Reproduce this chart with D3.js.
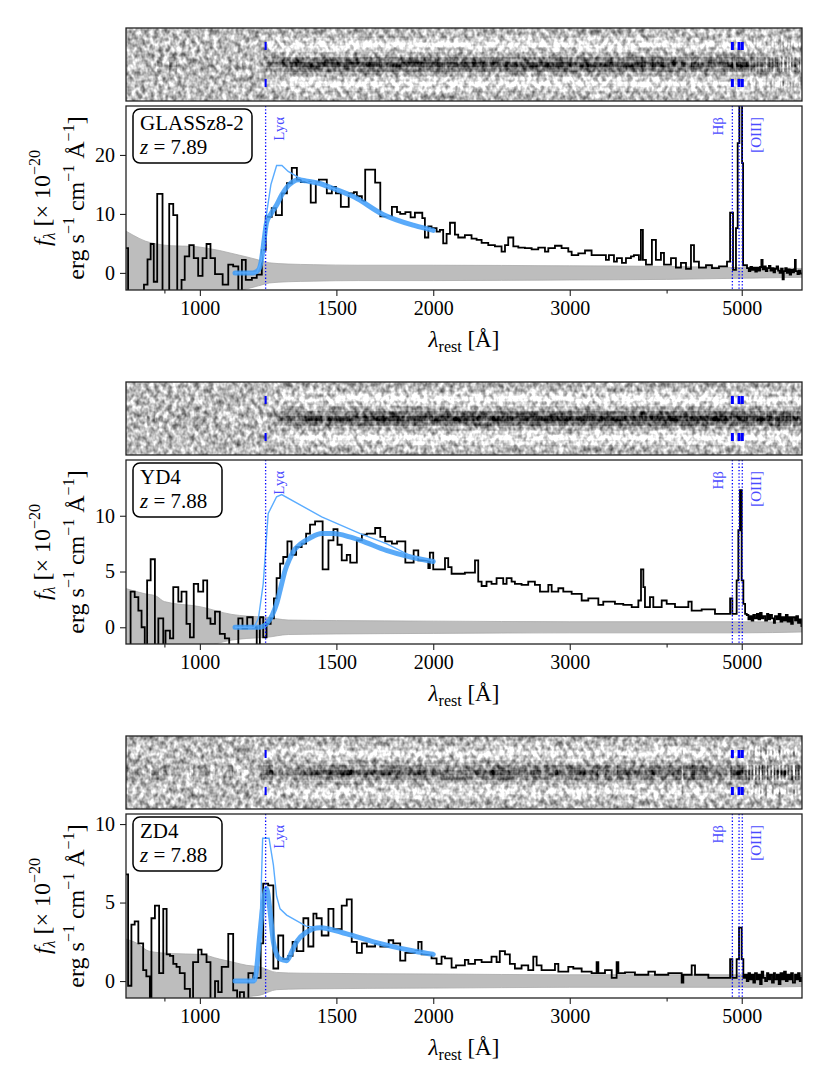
<!DOCTYPE html>
<html>
<head>
<meta charset="utf-8">
<script src="https://cdn.jsdelivr.net/npm/d3@7"></script>
<style>
  body { margin: 0; background: #fff; }
  svg { display: block; }
  text { font-family: "Liberation Serif", "DejaVu Serif", serif; }
</style>
</head>
<body>
<svg id="fig" width="830" height="1090"></svg>
<script>
// ---- data ----
const names = ['GLASSz8-2', 'YD4', 'ZD4'];
const redshifts = ['7.89', '7.88', '7.88'];
const xTicks = [1000, 1500, 2000, 3000, 5000];
const xMinor = [900, 4000];
const lyaLam = 1215.67;
const hbLam = 4862.68;
const o3Lam = [4960.30, 5008.24];

// spatial profile of the 2D trace (rows of the strip)
const profile = [0.05, 0, -0.2, -0.5, -0.2, 0.1, 0.55, 1.0, 0.55, 0.1, -0.2, -0.5, -0.2, 0, 0.05];

// GLASSz8-2 : bin left edges [A] and f_lambda
const lam1 = [800, 808, 847, 856, 864, 872, 881, 895, 913, 924, 935, 947, 956, 969, 982, 995, 1008, 1020, 1032, 1046,
  1070, 1088, 1104, 1121, 1133, 1146, 1167, 1184, 1202, 1216, 1238, 1253, 1276, 1295, 1314, 1334, 1350, 1390, 1411, 1424,
  1458, 1480, 1498, 1520, 1556, 1580, 1594, 1618, 1634, 1683, 1709, 1769, 1796, 1813, 1841, 1870, 1894, 1936, 1951, 1971,
  1990, 2020, 2040, 2060, 2081, 2102, 2133, 2154, 2197, 2241, 2275, 2309, 2355, 2402, 2450, 2475, 2499, 2537, 2575, 2626,
  2679, 2732, 2787, 2815, 2871, 2928, 2987, 3017, 3077, 3139, 3201, 3271, 3340, 3370, 3421, 3451, 3503, 3545, 3598, 3630,
  3684, 3706, 3728, 3762, 3829, 3875, 3933, 3969, 4052, 4112, 4174, 4237, 4300, 4339, 4403, 4496, 4577, 4673, 4786, 4830,
  4872, 4915, 4940, 4965, 5005, 5020, 5079, 5105, 5130, 5155, 5180, 5205, 5230, 5255, 5280, 5300, 5320, 5345, 5370, 5395,
  5420, 5445, 5470, 5495, 5520, 5545, 5570, 5595, 5620, 5645, 5665, 5690, 5715, 5740, 5765, 5790, 5815, 5840, 5855, 5870,
  5900, 5925, 5950];
const flux1 = [4.2, -5, -2.0, 2.3, 4.9, -1.5, 13.4, -5, 11.7, 9.8, -5, -1.2, 2.8, 4.7, 2.5, -0.5, 2.5, 4.9, 2.5, -0.2,
  -2.0, 1.4, 1.1, -5, 2.2, -1.2, -0.85, -0.3, 3.9, 9.5, 11.0, 9.8, 13.5, 15.2, 17.8, 15.8, 15.4, 11.9, 15.3, 15.8,
  13.5, 14.6, 13.5, 11.2, 13.5, 13.7, 13.0, 12.2, 17.5, 15.3, 9.6, 11.2, 10.3, 10.0, 10.3, 9.4, 10.2, 9.3, 6.0, 7.9,
  7.6, 7.0, 7.3, 5.0, 6.6, 8.5, 6.5, 6.0, 6.4, 5.8, 5.6, 5.1, 4.7, 4.5, 3.6, 4.7, 6.0, 4.5, 4.3, 4.2,
  4.0, 4.3, 3.6, 4.2, 4.6, 4.2, 3.6, 3.0, 3.3, 3.8, 3.0, 3.0, 2.2, 3.0, 1.9, 2.5, 1.7, 2.5, 2.8, 3.0,
  2.2, 7.3, 2.2, 1.4, 5.6, 2.2, 3.4, 1.4, 2.5, 0.9, 1.7, 0.7, 4.7, 1.9, 0.9, 1.3, 0.8, 1.1, 1.9, 10.2,
  0.5, 7.6, 22, 40, 18.6, 1.3, 0.8, 0.3, 1.0, 0.5, 0.9, 0.2, 0.9, 0.4, 1.0, 2.2, 0.6, 1.1, 0.3, 0.8,
  1.2, 0.4, 0.8, 0.1, 0.7, 1.1, 0.4, 0.0, 0.7, -1.1, 0.3, 0.8, 0.0, 0.6, -0.3, 0.5, 0.1, 0.6, 2.2, 0.3,
  -0.2, 0.4, -0.1];
const errLam1 = [800, 820, 850, 880, 920, 980, 1020, 1060, 1100, 1150, 1190, 1230, 1300, 1400, 1600, 2000, 3000, 4000, 5000, 6000];
const err1 = [7.2, 6.4, 5.4, 4.9, 4.6, 4.5, 4.2, 3.8, 3.3, 2.7, 2.2, 1.7, 1.5, 1.4, 1.3, 1.3, 1.2, 1.1, 0.9, 0.75];
const fitLam1 = [1110, 1170, 1190, 1200, 1210, 1219, 1235, 1256, 1275, 1300, 1320, 1340, 1370, 1424, 1480, 1580, 1723, 1894, 2000];
const fit1 = [0, 0, 0.5, 2.0, 5.5, 8.5, 10.0, 11.5, 13.2, 14.8, 15.5, 15.8, 15.6, 15.2, 14.4, 12.9, 9.9, 8.0, 7.2];
const intLam1 = [1110, 1184, 1200, 1210, 1219, 1235, 1256, 1276, 1300, 1340, 1380, 1424, 1480, 1580, 1723, 1894, 2000];
const int1 = [0, 0, 2.0, 6.0, 10.0, 15.0, 18.2, 18.2, 17.2, 16.2, 15.4, 15.2, 14.4, 12.9, 9.9, 8.0, 7.2];

// YD4
const lam2 = [800, 814, 824, 833, 841, 849, 855, 864, 875, 884, 897, 903, 915, 924, 938, 947, 961, 971, 982, 995,
  1010, 1022, 1032, 1046, 1061, 1077, 1091, 1121, 1135, 1151, 1170, 1184, 1195, 1207, 1219, 1234, 1246, 1256, 1269, 1281,
  1297, 1313, 1331, 1353, 1371, 1387, 1408, 1440, 1465, 1487, 1505, 1524, 1547, 1563, 1594, 1618, 1642, 1683, 1709, 1734,
  1769, 1796, 1841, 1887, 1913, 1971, 1980, 2000, 2071, 2091, 2112, 2197, 2264, 2286, 2309, 2343, 2378, 2414, 2462, 2487,
  2524, 2549, 2600, 2652, 2705, 2746, 2815, 2843, 2900, 2943, 3017, 3108, 3170, 3266, 3314, 3431, 3517, 3606, 3678, 3707,
  3733, 3751, 3807, 3845, 3942, 4001, 4101, 4267, 4309, 4439, 4618, 4830, 4862, 4925, 4950, 4974, 4999, 5024, 5050, 5075,
  5100, 5125, 5150, 5175, 5201, 5230, 5255, 5280, 5305, 5330, 5360, 5390, 5411, 5440, 5470, 5500, 5519, 5550, 5580, 5610,
  5640, 5670, 5700, 5730, 5760, 5790, 5820, 5857, 5880, 5910, 5940, 5970];
const flux2 = [-3, 3.2, 2.7, 1.5, 0.0, -3, 4.2, 6.1, -3, 0.8, -3, -0.3, -1.0, 3.6, 2.3, 3.2, 0.3, -0.9, 3.9, 3.2,
  4.2, 0.8, 0.3, 1.4, -0.6, -1.0, -3, 0.8, -0.1, 0.9, 0.0, -3, 0.9, -0.9, 0.3, 0.8, 2.6, 4.4, 5.7, 6.3,
  7.7, 6.5, 7.2, 7.5, 8.4, 9.2, 9.5, 5.2, 7.8, 8.8, 7.4, 6.0, 6.5, 5.8, 7.8, 8.3, 8.4, 8.9, 8.1, 7.7,
  7.5, 7.7, 5.8, 6.9, 6.0, 5.3, 6.7, 5.2, 6.2, 5.4, 4.8, 4.9, 6.0, 4.1, 3.7, 4.1, 3.9, 4.4, 3.9, 4.4,
  4.1, 3.9, 3.8, 4.1, 3.8, 3.2, 3.8, 3.2, 3.5, 3.2, 3.0, 2.4, 2.6, 2.0, 2.3, 2.1, 2.0, 1.8, 2.4, 5.2,
  3.6, 1.8, 2.7, 1.8, 2.4, 2.1, 1.8, 2.3, 1.5, 1.6, 1.2, 2.6, 1.2, 4.2, 8.7, 12.3, 4.2, 2.1, 1.2, 1.1,
  0.7, 1.0, 0.6, 1.1, 0.8, 1.2, 0.7, 1.3, 0.8, 1.0, 0.6, 1.2, 0.7, 1.1, 0.8, 0.4, 1.0, 0.7, 1.2, 0.5,
  0.9, 0.6, 1.1, 0.5, 0.9, 0.3, 0.9, 0.6, 1.0, 0.4, 0.7, 0.1];
const errLam2 = [800, 850, 878, 900, 1000, 1100, 1150, 1220, 1300, 1500, 2000, 3000, 5000, 6000];
const err2 = [3.5, 3.0, 2.8, 2.3, 1.85, 1.15, 1.0, 0.9, 0.65, 0.6, 0.55, 0.5, 0.5, 0.42];
const fitLam2 = [1110, 1190, 1207, 1222, 1240, 1256, 1272, 1288, 1305, 1320, 1350, 1387, 1436, 1487, 1560, 1610, 1740, 1870, 2000];
const fit2 = [0, 0, 0.1, 0.4, 1.1, 2.1, 3.6, 5.1, 6.1, 6.8, 7.5, 8.0, 8.4, 8.4, 8.1, 7.8, 6.9, 6.3, 5.9];
const intLam2 = [1110, 1175, 1190, 1207, 1225, 1256, 1275, 1436, 1610, 1740, 1870, 2000];
const int2 = [0, 0, 0.8, 3.9, 10.2, 11.7, 11.9, 9.9, 8.4, 7.5, 6.4, 5.95];

// ZD4
const lam3 = [800, 808, 816, 824, 833, 845, 853, 862, 866, 875, 886, 897, 906, 915, 924, 933, 942, 956, 971, 980,
  995, 1005, 1020, 1032, 1046, 1056, 1067, 1088, 1104, 1117, 1126, 1140, 1155, 1172, 1198, 1207, 1225, 1244, 1262, 1281,
  1300, 1317, 1333, 1360, 1380, 1401, 1414, 1436, 1465, 1487, 1524, 1547, 1570, 1594, 1618, 1642, 1683, 1709, 1752, 1776,
  1813, 1841, 1894, 1913, 1932, 1990, 2020, 2050, 2071, 2112, 2140, 2197, 2220, 2264, 2309, 2378, 2414, 2437, 2475, 2511,
  2549, 2600, 2652, 2692, 2719, 2759, 2871, 2900, 2987, 3032, 3108, 3201, 3249, 3266, 3331, 3398, 3448, 3466, 3535, 3641,
  3789, 3864, 4020, 4183, 4204, 4309, 4352, 4528, 4830, 4862, 4925, 4960, 4999, 5024, 5050, 5075, 5100, 5125, 5150, 5175,
  5201, 5230, 5255, 5280, 5305, 5330, 5360, 5390, 5411, 5440, 5470, 5500, 5519, 5550, 5580, 5610, 5640, 5670, 5700, 5730,
  5760, 5790, 5820, 5857, 5880, 5910, 5940, 5970];
const flux3 = [6.8, -0.3, 3.6, 3.8, 2.4, 0.7, 0.3, -3, 4.0, 4.8, 0.5, 4.6, 1.7, 1.6, 1.1, 0.9, 0.5, -0.5, -3, 1.2,
  2.0, 1.7, 1.2, -3, 0.0, -0.7, 0.9, 3.0, -0.6, -3, -0.7, -3, 0.5, 0.2, 2.4, 6.2, 6.1, 0.8, 2.9, 1.4,
  1.6, 2.5, 1.9, 4.0, 2.2, 4.3, 4.0, 2.9, 4.6, 3.3, 4.8, 5.2, 2.5, 1.8, 2.4, 2.2, 2.4, 2.2, 2.6, 2.4,
  1.3, 1.8, 1.9, 2.5, 1.7, 1.45, 1.1, 1.55, 1.45, 0.85, 1.0, 1.35, 1.1, 1.35, 1.2, 1.55, 1.2, 1.9, 1.7, 1.1,
  0.8, 1.0, 0.7, 1.55, 1.0, 0.7, 1.1, 0.6, 0.9, 0.8, 0.6, 0.5, 1.2, 0.5, 0.7, 0.2, 1.2, 0.5, 0.55, 0.4,
  0.6, 0.4, 0.5, -0.1, 0.4, 1.0, 0.4, 0.2, 1.4, 0.2, 1.4, 3.4, 1.4, 0.2, 0.4, 0.0, 0.5, 0.1, 0.4, -0.1,
  0.5, 0.1, 0.4, -0.2, 0.6, 0.2, 0.0, 0.5, 0.1, 0.4, -0.1, 0.5, 0.1, 0.4, -0.2, 0.5, 0.1, 0.6, 0.0, 0.4,
  0.1, 0.5, -0.1, 0.4, 0.1, 0.5, 0.0, 0.2];
const errLam3 = [800, 830, 860, 920, 1000, 1060, 1104, 1150, 1195, 1256, 1350, 2000, 3000, 5000, 6000];
const err3 = [2.7, 2.4, 1.9, 1.75, 1.7, 1.4, 1.2, 1.0, 0.9, 0.55, 0.5, 0.45, 0.4, 0.4, 0.35];
const fitLam3 = [1110, 1172, 1180, 1195, 1207, 1219, 1232, 1244, 1256, 1269, 1294, 1315, 1333, 1371, 1428, 1547, 1675, 1894, 2000];
const fit3 = [0, 0, 0.3, 3.0, 5.0, 5.9, 4.4, 2.5, 1.7, 1.4, 1.3, 1.9, 2.5, 3.1, 3.4, 3.0, 2.5, 1.9, 1.7];
const intLam3 = [1110, 1180, 1195, 1205, 1228, 1244, 1256, 1269, 1294, 1371, 1428, 1547, 1675, 1894, 2000];
const int3 = [0, 0, 3.0, 9.1, 9.1, 7.4, 5.4, 4.6, 4.2, 3.5, 3.4, 3.0, 2.5, 1.9, 1.7];

const spectra = [
  {lam: lam1, flux: flux1, errLam: errLam1, err: err1, fitLam: fitLam1, fit: fit1, intLam: intLam1, int: int1},
  {lam: lam2, flux: flux2, errLam: errLam2, err: err2, fitLam: fitLam2, fit: fit2, intLam: intLam2, int: int2},
  {lam: lam3, flux: flux3, errLam: errLam3, err: err3, fitLam: fitLam3, fit: fit3, intLam: intLam3, int: int3}
];

// ---- layout ----
const layout = [
  {strip: [28, 101], ax: [106, 290], ydom: [-2.9, 28.3], yt: [0, 10, 20], boxW: 119, sScale: 12},
  {strip: [382, 455], ax: [460, 644], ydom: [-1.5, 15.0], yt: [0, 5, 10], boxW: 89, sScale: 7},
  {strip: [736, 809], ax: [814, 998], ydom: [-1.08, 10.64], yt: [0, 5, 10], boxW: 89, sScale: 4}
];
const left = 126, right = 802, lamMin = 803, lamMax = 5980;
const lineBlue = '#0000ff', labelBlue = '#4b4bff';

const svg = d3.select('#fig');
const x = d3.scaleLog().domain([lamMin, lamMax]).range([left, right]);
const gray = d3.scaleLinear().domain([0, 1]).range(['#000', '#fff']).clamp(true);

const defs = svg.append('defs');
const grain = defs.append('filter').attr('id', 'grain')
  .attr('x', 0).attr('y', 0).attr('width', 1).attr('height', 1)
  .attr('color-interpolation-filters', 'sRGB');
grain.append('feTurbulence').attr('type', 'fractalNoise')
  .attr('baseFrequency', '0.22 0.17').attr('numOctaves', 2).attr('seed', 7).attr('result', 'n');
grain.append('feColorMatrix').attr('in', 'n').attr('type', 'matrix')
  .attr('values', '1 0 0 0 0  1 0 0 0 0  1 0 0 0 0  0 0 0 0 1').attr('result', 'g');
grain.append('feComposite').attr('in', 'SourceGraphic').attr('in2', 'g')
  .attr('operator', 'arithmetic').attr('k1', 0).attr('k2', 1).attr('k3', 1.1).attr('k4', -0.55);

layout.forEach((L, k) => {
  const sp = spectra[k];
  const y = d3.scaleLinear().domain(L.ydom).range([L.ax[1], L.ax[0]]);
  const bins = sp.lam.map((l, i) => ({l0: l, l1: i < sp.lam.length - 1 ? sp.lam[i + 1] : lamMax, f: sp.flux[i]}));

  // ---- 2D spectrum strip ----
  const sH = L.strip[1] - L.strip[0];
  const rowH = sH / profile.length;
  defs.append('clipPath').attr('id', 'sclip' + k)
    .append('rect').attr('x', left).attr('y', L.strip[0]).attr('width', right - left).attr('height', sH);
  const sg = svg.append('g').attr('clip-path', `url(#sclip${k})`)
    .append('g').attr('filter', 'url(#grain)');
  sg.append('rect').attr('x', left).attr('y', L.strip[0]).attr('width', right - left).attr('height', sH)
    .attr('fill', gray(0.74));
  bins.forEach(b => {
    const sig = Math.tanh(b.f * Math.pow(b.l0 / 1500, 2) / L.sScale);
    profile.forEach((p, r) => {
      sg.append('rect')
        .attr('x', x(b.l0)).attr('width', x(b.l1) - x(b.l0) + 0.3)
        .attr('y', L.strip[0] + r * rowH).attr('height', rowH + 0.3)
        .attr('fill', gray(0.74 - 0.62 * sig * p));
    });
  });
  svg.append('rect').attr('x', left).attr('y', L.strip[0]).attr('width', right - left).attr('height', sH)
    .attr('fill', 'none').attr('stroke', '#222').attr('stroke-width', 1.3);
  // line markers on strip
  const marks = [lyaLam, hbLam].concat(o3Lam);
  marks.forEach((l, i) => {
    const w = i === 0 ? 2 : 3;
    [14, 51].forEach(off => {
      svg.append('rect').attr('x', x(l) - w / 2).attr('y', L.strip[0] + off)
        .attr('width', w).attr('height', 8).attr('fill', lineBlue);
    });
  });

  // ---- 1D spectrum ----
  defs.append('clipPath').attr('id', 'aclip' + k)
    .append('rect').attr('x', left).attr('y', L.ax[0]).attr('width', right - left).attr('height', L.ax[1] - L.ax[0]);
  const g = svg.append('g').attr('clip-path', `url(#aclip${k})`);

  const errPts = sp.errLam.map((l, i) => [l, sp.err[i]]);
  g.append('path').datum(errPts)
    .attr('d', d3.area().x(d => x(d[0])).y0(d => y(-d[1])).y1(d => y(d[1])).curve(d3.curveMonotoneX))
    .attr('fill', '#bdbdbd').attr('stroke', '#a9a9a9').attr('stroke-width', 0.8);

  const stepPts = bins.map(b => [b.l0, b.f]).concat([[lamMax, bins[bins.length - 1].f]]);
  g.append('path').datum(stepPts)
    .attr('d', d3.line().x(d => x(d[0])).y(d => y(d[1])).curve(d3.curveStepAfter))
    .attr('fill', 'none').attr('stroke', '#000').attr('stroke-width', 1.8).attr('stroke-linejoin', 'miter');

  const fitPts = sp.fitLam.map((l, i) => [l, sp.fit[i]]);
  g.append('path').datum(fitPts)
    .attr('d', d3.line().x(d => x(d[0])).y(d => y(d[1])).curve(d3.curveMonotoneX))
    .attr('fill', 'none').attr('stroke', '#3d9bf7').attr('stroke-opacity', 0.85)
    .attr('stroke-width', 5).attr('stroke-linecap', 'round');

  const intPts = sp.intLam.map((l, i) => [l, sp.int[i]]);
  g.append('path').datum(intPts)
    .attr('d', d3.line().x(d => x(d[0])).y(d => y(d[1])))
    .attr('fill', 'none').attr('stroke', '#5aacff').attr('stroke-width', 1.4);

  [lyaLam, hbLam].concat(o3Lam).forEach(l => {
    g.append('line').attr('x1', x(l)).attr('x2', x(l)).attr('y1', L.ax[0]).attr('y2', L.ax[1])
      .attr('stroke', lineBlue).attr('stroke-width', 1.3).attr('stroke-dasharray', '1.3,2');
  });

  // line labels (rotated)
  const lab = (xb, txt) => svg.append('text')
    .attr('transform', `translate(${xb},${L.ax[0] + 11}) rotate(-90)`)
    .attr('text-anchor', 'end').attr('font-size', 15).attr('fill', labelBlue).text(txt);
  lab(x(lyaLam) + 18, 'Lyα');
  lab(x(hbLam) - 9, 'Hβ');
  lab(x(o3Lam[1]) + 19, '[OIII]');

  // frame
  svg.append('rect').attr('x', left).attr('y', L.ax[0]).attr('width', right - left).attr('height', L.ax[1] - L.ax[0])
    .attr('fill', 'none').attr('stroke', '#222').attr('stroke-width', 1.3);

  // axes
  const xa = svg.append('g').attr('transform', `translate(0,${L.ax[1]})`)
    .call(d3.axisBottom(x).tickValues(xTicks).tickFormat(d3.format('d')).tickSize(6).tickPadding(5));
  const xm = svg.append('g').attr('transform', `translate(0,${L.ax[1]})`)
    .call(d3.axisBottom(x).tickValues(xMinor).tickFormat('').tickSize(3.5));
  const ya = svg.append('g').attr('transform', `translate(${left},0)`)
    .call(d3.axisLeft(y).tickValues(L.yt).tickSize(6).tickPadding(5));
  [xa, xm, ya].forEach(a => {
    a.select('.domain').remove();
    a.selectAll('line').attr('stroke', '#222').attr('stroke-width', 1.1);
    a.selectAll('text').attr('font-family', '"Liberation Serif", serif').attr('font-size', 20).attr('fill', '#000');
  });

  // x label
  const xl = svg.append('text').attr('x', (left + right) / 2).attr('y', L.ax[1] + 57)
    .attr('text-anchor', 'middle').attr('font-size', 23);
  xl.append('tspan').attr('font-style', 'italic').text('λ');
  xl.append('tspan').attr('font-size', 16).attr('dy', 5).text('rest');
  xl.append('tspan').attr('dy', -5).text(' [Å]');

  // y label (two lines)
  const cy = (L.ax[0] + L.ax[1]) / 2;
  const y1 = svg.append('text').attr('transform', `translate(50,${cy}) rotate(-90)`)
    .attr('text-anchor', 'middle').attr('font-size', 24);
  y1.append('tspan').attr('font-style', 'italic').text('f');
  y1.append('tspan').attr('font-size', 16).attr('font-style', 'italic').attr('dy', 5).text('λ');
  y1.append('tspan').attr('dy', -5).text(' [× 10');
  y1.append('tspan').attr('font-size', 16).attr('dy', -10).text('−20');

  const y2 = svg.append('text').attr('transform', `translate(84,${cy}) rotate(-90)`)
    .attr('text-anchor', 'middle').attr('font-size', 24);
  const parts = [['erg s', '−1'], [' cm', '−1'], [' Å', '−1']];
  parts.forEach((p, i) => {
    y2.append('tspan').attr('dy', i === 0 ? 0 : 10).text(p[0]);
    y2.append('tspan').attr('font-size', 16).attr('dy', -10).text(p[1]);
  });
  y2.append('tspan').attr('dy', 10).text(']');

  // name box
  svg.append('rect').attr('x', 133).attr('y', L.ax[0] + 3).attr('width', L.boxW).attr('height', 54)
    .attr('rx', 7).attr('fill', '#fff').attr('stroke', '#000').attr('stroke-width', 1.5);
  svg.append('text').attr('x', 140).attr('y', L.ax[0] + 24).attr('font-size', 21).text(names[k]);
  const zt = svg.append('text').attr('x', 140).attr('y', L.ax[0] + 48).attr('font-size', 21);
  zt.append('tspan').attr('font-style', 'italic').text('z');
  zt.append('tspan').text(' = ' + redshifts[k]);
});
</script>
</body>
</html>
